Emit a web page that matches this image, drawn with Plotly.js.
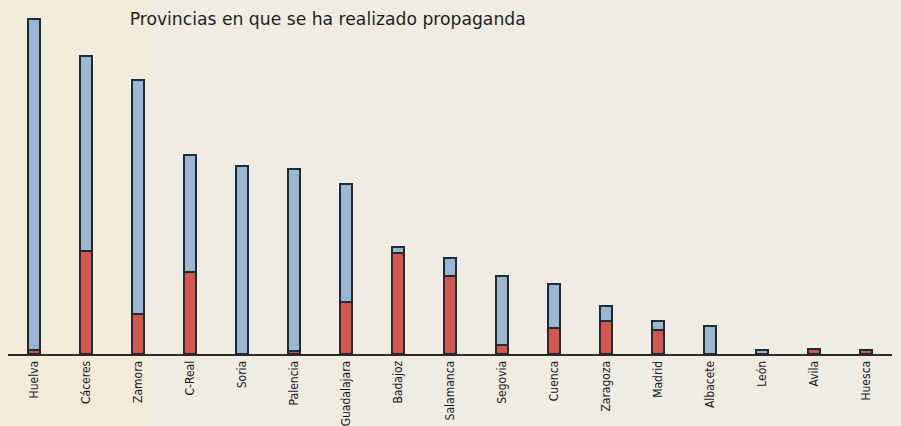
<!DOCTYPE html>
<html>
<head>
<meta charset="utf-8">
<script src="https://cdn.plot.ly/plotly-3.0.1.min.js"></script>
<style>html,body{margin:0;padding:0;background:#efece3;}#chart{width:901px;height:426px;}</style>
</head>
<body>
<div id="chart"></div>
<script>
const provinces = ["Huelva","Cáceres","Zamora","C-Real","Soria","Palencia","Guadalajara","Badajoz","Salamanca","Segovia","Cuenca","Zaragoza","Madrid","Albacete","León","Avila","Huesca"];
const redValues  = [4,103,40,82,0,3,52,101,78,9,26,33,24,0,0,5,4];
const blueValues = [331,195,234,117,188,182,118,6,18,69,44,15,9,28,4,0,0];
const titleText = "Provincias en que se ha realizado propaganda";

const outline = {color:"#1e2a36", width:1.6};
const traces = [
  {type:"bar", x:provinces, y:redValues, name:"red", marker:{color:"#d3574d", line:outline}, width:0.22, hoverinfo:"x+y"},
  {type:"bar", x:provinces, y:blueValues, name:"blue", marker:{color:"#98b6d0", line:outline}, width:0.22, hoverinfo:"x+y"}
];
const layout = {
  width:901, height:426,
  barmode:"stack",
  showlegend:false,
  paper_bgcolor:"#efece3",
  plot_bgcolor:"rgba(0,0,0,0)",
  margin:{l:8, r:9, t:14, b:72},
  title:{text:titleText, x:124/901, xanchor:"left", xref:"paper", y:0.955, yanchor:"middle",
         font:{family:"DejaVu Sans", size:17.2, color:"#1e1e1e"}},
  xaxis:{type:"category", range:[-0.5,16.5], showline:true, linecolor:"#2a2a2a", linewidth:2,
         showgrid:false, zeroline:false, ticks:"", tickangle:-90,
         tickfont:{family:"DejaVu Sans Condensed, DejaVu Sans", size:12, color:"#1a1a1a"}},
  yaxis:{range:[0,340], visible:false, showgrid:false, zeroline:false},
  shapes:[{type:"rect", xref:"paper", yref:"paper", x0:-0.02, x1:0.16, y0:-0.3, y1:1.1,
           fillcolor:"#f3ecd2", opacity:0.6, line:{width:0}, layer:"below"}]
};
Plotly.newPlot("chart", traces, layout, {displayModeBar:false, staticPlot:true});
</script>
</body>
</html>
